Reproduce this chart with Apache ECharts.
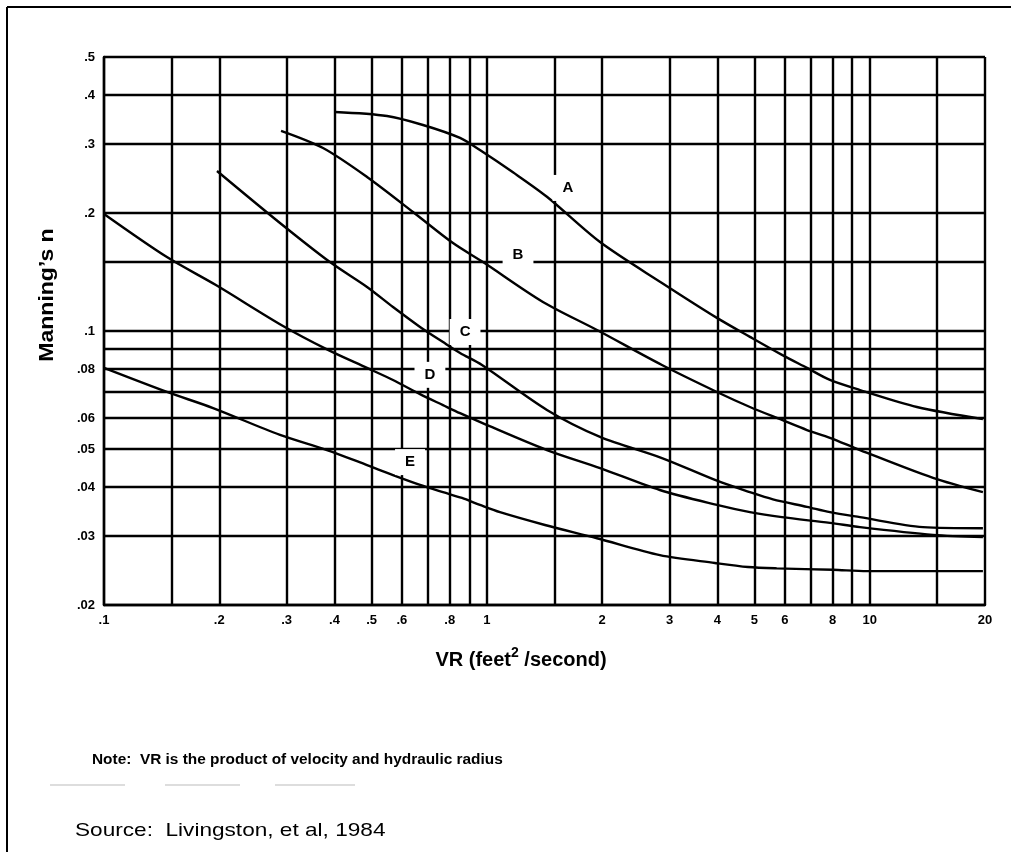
<!DOCTYPE html>
<html>
<head>
<meta charset="utf-8">
<script src="https://cdn.jsdelivr.net/npm/echarts@6/dist/echarts.min.js"></script>
<style>
html,body{margin:0;padding:0;background:#fff;}
#chart{width:1011px;height:852px;}
</style>
</head>
<body>
<div id="chart"></div>
<script>
// ---- data ----
const xTicks = [0.1,0.2,0.3,0.4,0.5,0.6,0.8,1,2,3,4,5,6,8,10,20];
const xTickLabels = ['.1','.2','.3','.4','.5','.6','.8','1','2','3','4','5','6','8','10','20'];
const yTicks = [0.02,0.03,0.04,0.05,0.06,0.08,0.1,0.2,0.3,0.4,0.5];
const yTickLabels = ['.02','.03','.04','.05','.06','.08','.1','.2','.3','.4','.5'];
const xGridValues = [0.1,0.15,0.2,0.3,0.4,0.5,0.6,0.7,0.8,0.9,1,1.5,2,3,4,5,6,7,8,9,10,15,20];
const yGridValues = [0.02,0.03,0.04,0.05,0.06,0.07,0.08,0.09,0.1,0.15,0.2,0.3,0.4,0.5];

const curveA_x = [0.401,0.5486,0.681,0.851,0.959,1.17,1.435,1.975,2.866,3.989,4.865,5.899,6.855,7.87,9.43,13.28,19.75];
const curveA_y = [0.362,0.3536,0.3354,0.3108,0.2895,0.254,0.220,0.1686,0.1326,0.1080,0.0966,0.0869,0.0805,0.0750,0.0707,0.0640,0.0596];
const curveB_x = [0.290,0.3733,0.4864,0.6412,0.8157,0.977,1.401,1.939,2.866,3.989,4.865,5.899,6.855,7.87,9.43,14.63,19.75];
const curveB_y = [0.324,0.2929,0.2471,0.2012,0.1676,0.1499,0.1186,0.1006,0.0819,0.0699,0.0640,0.0593,0.0559,0.0534,0.0497,0.0422,0.0388];
const curveC_x = [0.1973,0.2882,0.3892,0.4864,0.5686,0.669,0.768,0.851,0.971,1.435,1.975,2.866,3.989,4.865,5.587,6.855,7.87,9.43,13.77,19.75];
const curveC_y = [0.256,0.1886,0.1499,0.1295,0.1151,0.1024,0.0937,0.0879,0.0819,0.0629,0.0537,0.0474,0.0415,0.0388,0.0372,0.0356,0.0345,0.0335,0.0316,0.0314];
const curveD_x = [0.1,0.146,0.196,0.2935,0.3846,0.4864,0.5686,0.669,0.768,0.851,0.971,1.435,1.975,2.83,3.989,4.865,5.899,7.87,9.43,14.63,19.75];
const curveD_y = [0.1989,0.1544,0.131,0.103,0.0895,0.0805,0.075,0.069,0.0647,0.0617,0.0583,0.0497,0.0447,0.0393,0.0360,0.0345,0.0335,0.0324,0.0316,0.0302,0.0298];
const curveE_x = [0.1,0.146,0.1927,0.2882,0.3823,0.4864,0.5686,0.669,0.768,0.861,0.959,1.082,1.418,1.939,2.83,3.94,4.81,5.72,8.015,9.83,19.75];
const curveE_y = [0.0805,0.0699,0.0636,0.0543,0.0497,0.0455,0.0429,0.0405,0.0388,0.0375,0.0360,0.0345,0.0320,0.0296,0.0268,0.0256,0.0250,0.0248,0.0246,0.0244,0.0244];

const curveNames = ['A','B','C','D','E'];
const labelX = [1.629,1.206,0.877,0.710,0.630];
const labelY = [0.2317,0.1563,0.0994,0.0773,0.0463];

// ---- build ----
function zip(xs, ys){ return xs.map((x,i)=>[x, ys[i]]); }
function nearestLabel(v, ticks, labels){
  let best = 0, bd = Infinity;
  ticks.forEach((t,i)=>{ const d = Math.abs(Math.log(v) - Math.log(t)); if (d < bd){ bd = d; best = i; } });
  return bd < 0.02 ? labels[best] : '';
}
const curves = [zip(curveA_x,curveA_y), zip(curveB_x,curveB_y), zip(curveC_x,curveC_y), zip(curveD_x,curveD_y), zip(curveE_x,curveE_y)];

const gridLines = [];
xGridValues.forEach(v => gridLines.push({xAxis: v}));
yGridValues.forEach(v => gridLines.push({yAxis: v}));

const FONT = 'Liberation Sans, Arial, sans-serif';
const series = [];
series.push({
  type: 'line', data: [], z: 1, silent: true,
  markLine: {
    silent: true, symbol: ['none','none'], animation: false,
    label: {show: false},
    lineStyle: {color: '#000', width: 2.4, type: 'solid', opacity: 1},
    emphasis: {disabled: true},
    data: gridLines
  }
});
curves.forEach((c, i) => {
  series.push({
    type: 'line', name: curveNames[i], data: c, smooth: 0.3, showSymbol: false, z: 3,
    lineStyle: {color: '#000', width: 2.4}, animation: false
  });
});
series.push({
  type: 'scatter', z: 10, symbolSize: 0, itemStyle: {color: '#000', opacity: 1}, animation: false,
  data: curveNames.map((n,i)=>[labelX[i], labelY[i], n]),
  label: {
    show: true, position: 'inside', formatter: p => p.data[2],
    color: '#000', fontWeight: 'bold', fontSize: 15, fontFamily: FONT,
    textBorderWidth: 0, opacity: 1,
    backgroundColor: '#fff', padding: [6, 10, 5, 10]
  }
});

const chart = echarts.init(document.getElementById('chart'), null, {renderer: 'canvas'});
chart.setOption({
  backgroundColor: '#fff',
  animation: false,
  grid: {left: 104, right: 26, top: 57, bottom: 247, containLabel: false},
  xAxis: {
    type: 'log', logBase: 10, min: 0.1, max: 20,
    axisLine: {show: true, lineStyle: {color: '#000', width: 2.4}},
    axisTick: {show: false},
    splitLine: {show: false},
    minorSplitLine: {show: false},
    axisLabel: {
      customValues: xTicks, margin: 9, color: '#000', fontWeight: 'bold', fontSize: 13,
      fontFamily: FONT,
      formatter: v => nearestLabel(v, xTicks, xTickLabels)
    }
  },
  yAxis: {
    type: 'log', logBase: 10, min: 0.02, max: 0.5,
    axisLine: {show: true, lineStyle: {color: '#000', width: 2.4}},
    axisTick: {show: false},
    splitLine: {show: false},
    axisLabel: {
      customValues: yTicks, margin: 9, color: '#000', fontWeight: 'bold', fontSize: 13,
      fontFamily: FONT,
      formatter: v => nearestLabel(v, yTicks, yTickLabels)
    }
  },
  series: series,
  graphic: [
    {type: 'line', shape: {x1: 7, y1: 7, x2: 1011, y2: 7}, style: {stroke: '#000', lineWidth: 2}},
    {type: 'line', shape: {x1: 7, y1: 7, x2: 7, y2: 852}, style: {stroke: '#000', lineWidth: 2}},
    {type: 'line', shape: {x1: 50, y1: 785, x2: 125, y2: 785}, style: {stroke: '#bbb', lineWidth: 1}},
    {type: 'line', shape: {x1: 165, y1: 785, x2: 240, y2: 785}, style: {stroke: '#bbb', lineWidth: 1}},
    {type: 'line', shape: {x1: 275, y1: 785, x2: 355, y2: 785}, style: {stroke: '#bbb', lineWidth: 1}},
    {
      type: 'text', x: 47, y: 295, rotation: Math.PI / 2, scaleX: 1.15,
      style: {
        text: "Manning\u2019s n", fill: '#000', fontSize: 20, fontWeight: 'bold',
        fontFamily: FONT, align: 'center', verticalAlign: 'middle'
      }
    },
    {
      type: 'text', x: 521, y: 660,
      style: {
        text: 'VR (feet{sup|2} /second)', fill: '#000', fontSize: 20, fontWeight: 'bold',
        fontFamily: FONT, align: 'center', verticalAlign: 'middle',
        rich: {sup: {fontSize: 14, fontWeight: 'bold', verticalAlign: 'top', padding: [0, 0, 14, 0], fontFamily: FONT}}
      }
    },
    {
      type: 'text', x: 92, y: 760, scaleX: 1.1,
      style: {
        text: 'Note:  VR is the product of velocity and hydraulic radius', fill: '#000', fontSize: 14, fontWeight: 'bold',
        fontFamily: FONT, align: 'left', verticalAlign: 'middle'
      }
    },
    {
      type: 'text', x: 75, y: 831, scaleX: 1.19,
      style: {
        text: 'Source:  Livingston, et al, 1984', fill: '#000', fontSize: 19,
        fontFamily: FONT, align: 'left', verticalAlign: 'middle'
      }
    }
  ]
});
</script>
</body>
</html>
